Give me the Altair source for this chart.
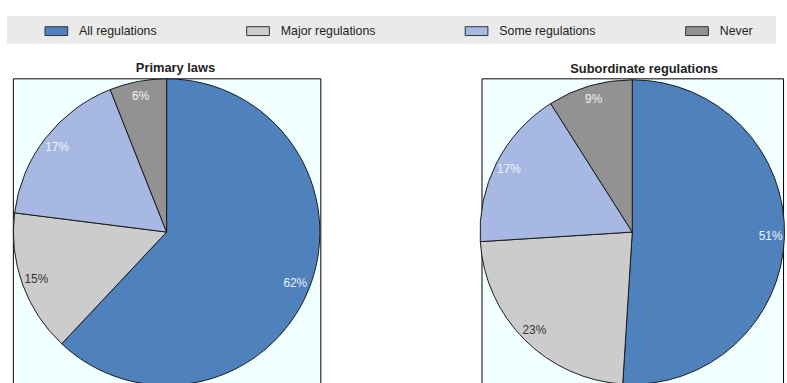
import altair as alt
import pandas as pd

# Share of countries requiring RIA, by type of regulation
categories = ["All regulations", "Major regulations", "Some regulations", "Never"]
primary_laws = [62, 15, 17, 6]
subordinate_regulations = [51, 23, 17, 9]
palette = ["#4f81bd", "#cccccc", "#a7b9e3", "#929292"]

FONT = "Liberation Sans Narrow, Arial Narrow, Liberation Sans, Arial, sans-serif"
TEXT_DARK = "#222222"


def frame(values):
    return pd.DataFrame({
        "category": categories,
        "share": values,
        "rank": list(range(len(categories))),
        "label": [f"{v}%" for v in values],
    })


color_scale = alt.Scale(domain=categories, range=palette)

# rectangular swatch, 23 x 9 px once scaled by symbolSize
swatch = "M-1,-0.39L1,-0.39L1,0.39L-1,0.39Z"

legend = alt.Legend(
    title=None,
    orient="none",
    legendX=32,
    legendY=3,
    direction="horizontal",
    symbolType=swatch,
    symbolSize=529,
    symbolStrokeColor="#333333",
    symbolStrokeWidth=1,
    symbolOpacity=1,
    labelFont=FONT,
    labelFontSize=12.5,
    labelColor=TEXT_DARK,
    labelOffset=11,
    columnPadding=88,
    padding=0,
    zindex=1,
)


def pie(values, title, w, h, r, title_dx):
    base = alt.Chart(frame(values)).encode(
        theta=alt.Theta("share:Q", stack=True),
        order=alt.Order("rank:Q"),
    )
    arcs = base.mark_arc(radius=r, stroke="#1a1a1a", strokeWidth=1).encode(
        color=alt.Color("category:N", scale=color_scale, legend=legend)
    )
    labels = base.mark_text(radius=140, font=FONT, fontSize=12).encode(
        text="label:N",
        color=alt.condition(
            alt.datum.category == "Major regulations",
            alt.value("#333333"),
            alt.value("#eef2fb"),
        ),
    )
    return alt.layer(arcs, labels).properties(
        width=w,
        height=h,
        title=alt.Title(
            title,
            font=FONT,
            fontSize=13,
            fontWeight="bold",
            color=TEXT_DARK,
            anchor="middle",
            dx=title_dx,
            offset=2,
        ),
        view=alt.ViewBackground(fill="#f2ffff", stroke="#000000", strokeWidth=1),
    )


# grey band behind the legend
band = alt.Chart(pd.DataFrame({"band": [0]})).mark_rect(color="#eaeaea").encode(
    x=alt.value(-6), x2=alt.value(772), y=alt.value(0), y2=alt.value(28)
).properties(width=766, height=28, view=alt.ViewBackground(stroke=None))

left = pie(primary_laws, "Primary laws", 311, 311, 155, 9)
right = pie(subordinate_regulations, "Subordinate regulations", 305, 311, 154, 12)

chart = alt.vconcat(
    band,
    alt.hconcat(left, right, spacing=157),
    spacing=18,
).properties(
    padding={"left": 7, "top": 14, "right": 0, "bottom": 0},
    background="white",
).configure_concat(spacing=0)

chart.save("out.html", embed_options={"renderer": "svg", "actions": False})
